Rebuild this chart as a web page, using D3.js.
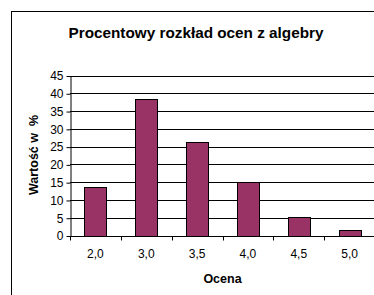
<!DOCTYPE html>
<html>
<head>
<meta charset="utf-8">
<script src="https://cdn.jsdelivr.net/npm/d3@7"></script>
<style>
  body { margin: 0; background: #fff; }
  svg text { font-family: "Liberation Sans", Arial, sans-serif; fill: #000; }
</style>
</head>
<body>
<svg id="chart" width="374" height="295"></svg>
<script>
// data
var grades = ["2,0", "3,0", "3,5", "4,0", "4,5", "5,0"];
var percents = [13.7, 38.5, 26.3, 15.0, 5.3, 1.5];
var yTicks = [0, 5, 10, 15, 20, 25, 30, 35, 40, 45];

var svg = d3.select("#chart");
var margin = {left: 70, top: 75.5, right: 375, bottom: 235.5};

// outer chart frame (runs off the right and bottom of the window)
svg.append("rect")
    .attr("x", 11.5).attr("y", 11.5)
    .attr("width", 400).attr("height", 320)
    .attr("fill", "#fff").attr("stroke", "#000").attr("stroke-width", 1);

var x = d3.scaleBand().domain(grades).range([margin.left, margin.right]).paddingInner(0.566).paddingOuter(0.283);
var y = d3.scaleLinear().domain([0, 45]).range([margin.bottom, margin.top]);

//gridlines
svg.append("g").selectAll("line").data(yTicks.filter(function(d){ return d > 0; }))
    .enter().append("line")
    .attr("x1", margin.left).attr("x2", margin.right)
    .attr("y1", function(d){ return Math.round(y(d)) + 0.5; })
    .attr("y2", function(d){ return Math.round(y(d)) + 0.5; })
    .attr("stroke", "#000").attr("stroke-width", 1);

//bars
svg.append("g").selectAll("rect").data(percents)
    .enter().append("rect")
    .attr("x", function(d, i){ return Math.round(x(grades[i])) + 0.5; })
    .attr("y", function(d){ return Math.round(y(d)) + 0.5; })
    .attr("width", Math.round(x.bandwidth()))
    .attr("height", function(d){ return Math.round(y(0)) - Math.round(y(d)); })
    .attr("fill", "#993366").attr("stroke", "#000").attr("stroke-width", 1);

// y axis
var yAxis = d3.axisLeft(y).tickValues(yTicks).tickSize(4).tickSizeOuter(0).tickPadding(3);
var gy = svg.append("g").attr("transform", "translate(" + (margin.left + 0.5) + ",0.5)").call(yAxis);
gy.select(".domain").attr("stroke", "#000");
gy.selectAll("text").style("font-size", "12px");

// x axis, ticks sit between categories
var gx = svg.append("g").attr("transform", "translate(0," + (Math.round(y(0)) + 0.5) + ")");
gx.append("line").attr("x1", margin.left).attr("x2", margin.right).attr("stroke", "#000");
var step = x.step();
gx.selectAll(".tk").data(d3.range(grades.length + 1)).enter().append("line")
    .attr("x1", function(i){ return Math.round(margin.left + i * step) + 0.5; })
    .attr("x2", function(i){ return Math.round(margin.left + i * step) + 0.5; })
    .attr("y1", 0).attr("y2", 4).attr("stroke", "#000");
gx.selectAll("text").data(grades).enter().append("text")
    .attr("x", function(d){ return x(d) + x.bandwidth() / 2; })
    .attr("y", 21)
    .attr("text-anchor", "middle")
    .style("font-size", "12px")
    .text(function(d){ return d; });

// titles
svg.append("text").attr("x", 196).attr("y", 38)
    .attr("text-anchor", "middle")
    .style("font-size", "15.3px").style("font-weight", "bold")
    .text("Procentowy rozkład ocen z algebry");

svg.append("text").attr("x", 222.5).attr("y", 283)
    .attr("text-anchor", "middle")
    .style("font-size", "12.5px").style("font-weight", "bold")
    .text("Ocena");

svg.append("text")
    .attr("transform", "translate(38,155) rotate(-90)")
    .attr("text-anchor", "middle")
    .style("font-size", "12.5px").style("font-weight", "bold")
    .style("white-space", "pre")
    .text("Wartość w  %");
</script>
</body>
</html>
